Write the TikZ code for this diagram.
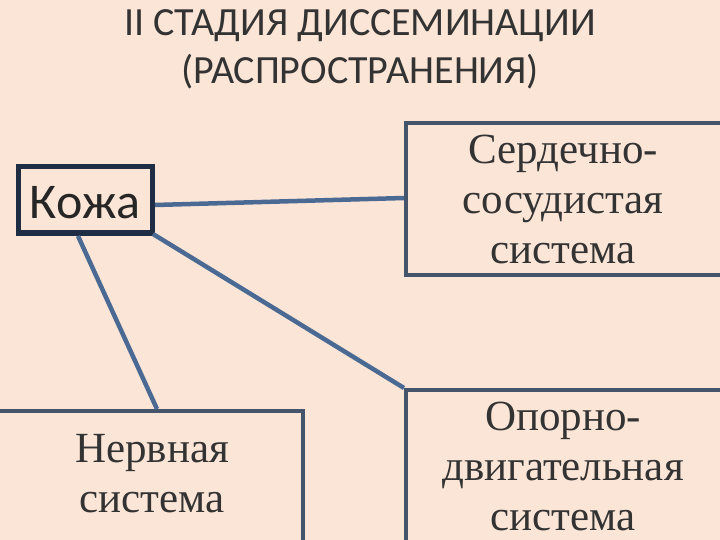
\documentclass[tikz,border=0pt]{standalone}
\usepackage{fontspec}
\setmainfont{Liberation Serif}
\newfontfamily\calib{Carlito}
\definecolor{bg}{HTML}{FBE5D6}
\definecolor{edge}{HTML}{44546A}
\definecolor{dark}{HTML}{1F2D44}
\definecolor{ln}{HTML}{4A6A94}
\begin{document}
\begin{tikzpicture}[x=1pt,y=-1pt,
  box/.style={draw=edge,line width=4pt,fill=bg,inner sep=0pt},
  serif/.style={align=center,font=\fontsize{43}{50}\selectfont,text=black!80},
  conn/.style={draw=ln,line width=4.5pt}]
\fill[bg] (0,0) rectangle (720,540);
\useasboundingbox (0,0) rectangle (720,540);
\node[font=\calib\fontsize{40}{48}\selectfont,align=center,text=black!80] (title) at (360,49) {II СТАДИЯ ДИССЕМИНАЦИИ\\(РАСПРОСТРАНЕНИЯ)};
\draw[box,draw=dark,line width=5pt] (18,167) rectangle (152,233);
\node[font=\calib\fontsize{50}{50}\selectfont,text=black!85] (koza) at (85,203) {Кожа};
\draw[box] (406,123) rectangle (722,275);
\node[serif] (cardio) at (563,199) {Сердечно-\\сосудистая\\система};
\draw[box] (-2,411) rectangle (303,542);
\node[serif] (nerv) at (152,474) {Нервная\\система};
\draw[box] (406,390) rectangle (722,542);
\node[serif] (opor) at (563,466) {Опорно-\\двигательная\\система};
\coordinate (k1) at (155,205); \coordinate (c1) at (404,198);
\coordinate (k2) at (153,234); \coordinate (o1) at (404,388);
\coordinate (k3) at (78,236); \coordinate (n1) at (157,409);
\draw[conn] (k1) -- (c1);
\draw[conn] (k2) -- (o1);
\draw[conn] (k3) -- (n1);
\end{tikzpicture}
\end{document}
